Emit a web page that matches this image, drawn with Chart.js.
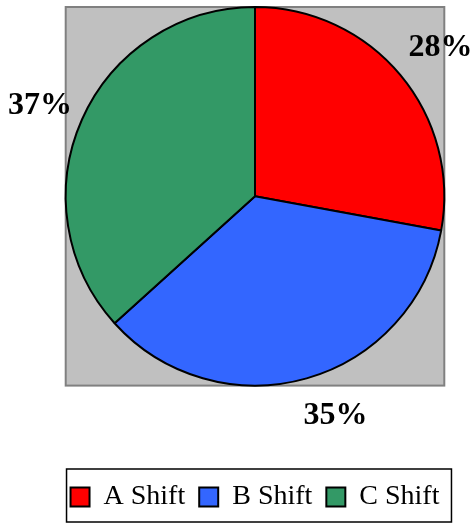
<!DOCTYPE html>
<html><head><meta charset="utf-8">
<script src="https://cdn.jsdelivr.net/npm/chart.js@4/dist/chart.umd.min.js"></script>
<style>html,body{margin:0;padding:0;background:#fff}#wrap{width:476px;height:523px}</style>
</head><body><div id="wrap"><canvas id="c" width="476" height="523"></canvas></div>
<script>
const categories = ['A Shift', 'B Shift', 'C Shift'];
const values = [27.9, 35.4, 36.7];
const colors = ['#FF0000', '#3366FF', '#339966'];

// small per-label nudges (px) to mimic the original label placement
const labelNudge = [[4, 3], [16, -8], [1, 5]];

const bgPlugin = {
  id: 'bgRect',
  beforeDatasetsDraw(chart) {
    const meta = chart.getDatasetMeta(0);
    if (!meta.data.length) return;
    const p = meta.data[0].getProps(['x', 'y', 'outerRadius'], true);
    const r = p.outerRadius;
    const ctx = chart.ctx;
    ctx.save();
    ctx.fillStyle = '#C0C0C0';
    ctx.fillRect(p.x - r, p.y - r, 2 * r, 2 * r);
    ctx.strokeStyle = '#808080';
    ctx.lineWidth = 2;
    ctx.strokeRect(p.x - r, p.y - r, 2 * r, 2 * r);
    ctx.restore();
  }
};
const labelPlugin = {
  id: 'pctLabels',
  afterDatasetsDraw(chart) {
    const ctx = chart.ctx;
    const meta = chart.getDatasetMeta(0);
    const data = chart.data.datasets[0].data;
    const total = data.reduce((s, v) => s + v, 0);
    ctx.save();
    ctx.font = 'bold 32px "Liberation Serif"';
    ctx.fillStyle = '#000';
    ctx.textAlign = 'center';
    ctx.textBaseline = 'middle';
    meta.data.forEach((arc, i) => {
      const p = arc.getProps(['x', 'y', 'startAngle', 'endAngle', 'outerRadius'], true);
      const mid = (p.startAngle + p.endAngle) / 2;
      const r = p.outerRadius + 47;
      const n = labelNudge[i] || [0, 0];
      ctx.fillText(Math.round(data[i] / total * 100) + '%', p.x + Math.cos(mid) * r + n[0], p.y + Math.sin(mid) * r + n[1]);
    });
    ctx.restore();
  }
};
const legendBox = {
  id: 'legendBox',
  afterDraw(chart) {
    const lg = chart.legend;
    if (!lg || !lg.legendHitBoxes || !lg.legendHitBoxes.length) return;
    const hb = lg.legendHitBoxes;
    let l = Infinity, r = -Infinity, t = Infinity, b = -Infinity;
    hb.forEach(h => { l = Math.min(l, h.left); r = Math.max(r, h.left + h.width); t = Math.min(t, h.top); b = Math.max(b, h.top + h.height); });
    const ctx = chart.ctx;
    ctx.save();
    ctx.strokeStyle = '#000';
    ctx.lineWidth = 1.5;
    ctx.strokeRect(l - 4, t - 14, (r - l) + 16, (b - t) + 25);
    ctx.restore();
  }
};

new Chart(document.getElementById('c'), {
  type: 'pie',
  data: {
    labels: categories,
    datasets: [{ data: values, backgroundColor: colors, borderColor: '#000', borderWidth: 2 }]
  },
  options: {
    responsive: false,
    animation: false,
    layout: { padding: { left: 34, right: 0, top: 6, bottom: 2 } },
    plugins: {
      tooltip: { enabled: false },
      legend: {
        display: true,
        position: 'bottom',
        title: { display: true, text: ' ', padding: 34, font: { size: 12 } },
        labels: {
          boxWidth: 19, boxHeight: 19, padding: 14,
          color: '#000',
          font: { family: '"Liberation Serif"', size: 28 }
        }
      }
    }
  },
  plugins: [bgPlugin, labelPlugin, legendBox]
});
</script></body></html>
